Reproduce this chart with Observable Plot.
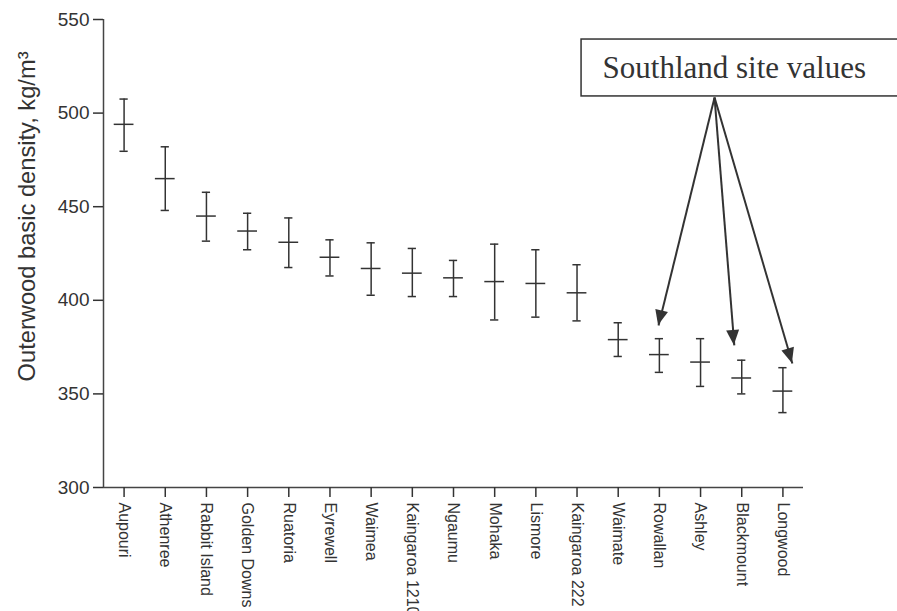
<!DOCTYPE html>
<html><head><meta charset="utf-8">
<script src="https://cdn.jsdelivr.net/npm/d3@7"></script>
<script src="https://cdn.jsdelivr.net/npm/@observablehq/plot@0.6"></script>
<style>body{margin:0;background:#fff}</style>
</head><body><div id="chart"></div>
<script>
const sites = ["Aupouri","Athenree","Rabbit Island","Golden Downs","Ruatoria","Eyrewell","Waimea","Kaingaroa 1210","Ngaumu","Mohaka","Lismore","Kaingaroa 222","Waimate","Rowallan","Ashley","Blackmount","Longwood"];
const means = [494,465,445,437,431,423,417,414.5,412,410,409,404,379,371,367,358.5,351.5];
const upper = [507.5,482,457.7,446.5,444,432.3,430.7,427.7,421.3,430,427,419,388,379.5,379.5,368,364];
const lower = [479.6,448,431.6,427,417.5,413,402.7,402,402,389.5,391,389,370,361.5,354,350,340];
const yTicks = [300,350,400,450,500,550];
const yLabel = "Outerwood basic density, kg/m³";
const annotationLabel = "Southland site values";
// annotation anchors in data space (x = site index, y = density)
const yLabelPos = {x: -2.35, y: 444.8};
const arrowStart = {x: 14.34, y: 508.3};
const arrowTipX = [12.98, 14.82, 16.23];
const arrowTipY = [386.5, 375.9, 366.2];
const boxX = [11.11, 19];
const boxY = [508.9, 539.3];
const labelPos = {x: 11.62, y: 523.8};

const data = sites.map((s, i) => ({i, site: s, mean: means[i], hi: upper[i], lo: lower[i]}));
const arrows = arrowTipX.map((x, k) => ({x1: arrowStart.x, y1: arrowStart.y, x2: x, y2: arrowTipY[k]}));

const ink = "#333";
function arrowheads(index, scales) {
  const g = d3.create("svg:g");
  arrows.forEach(a => {
    const x1 = scales.x(a.x1), y1 = scales.y(a.y1), x2 = scales.x(a.x2), y2 = scales.y(a.y2);
    const ang = Math.atan2(y2 - y1, x2 - x1);
    const L = 15, W = 6.5;
    const bx = x2 - L * Math.cos(ang), by = y2 - L * Math.sin(ang);
    const px = -Math.sin(ang) * W, py = Math.cos(ang) * W;
    g.append("path").attr("d", `M${x2},${y2}L${bx + px},${by + py}L${bx - px},${by - py}Z`).attr("fill", ink);
  });
  return g.node();
}

const chart = Plot.plot({
  width: 897,
  height: 611,
  marginTop: 19,
  marginBottom: 124,
  marginLeft: 103,
  marginRight: 94,
  style: {fontFamily: "Liberation Sans, Arial, sans-serif", color: ink, background: "#fff"},
  x: {type: "linear", domain: [-0.5, sites.length - 0.5]},
  y: {domain: [300, 550]},
  marks: [
    Plot.ruleY([300], {stroke: "#444", strokeWidth: 1.5}),
    Plot.ruleX([-0.5], {stroke: "#444", strokeWidth: 1.5}),
    Plot.axisY({ticks: yTicks, tickSize: 10, tickPadding: 4, fontSize: 19, label: null, strokeWidth: 1.5}),
    Plot.axisX({ticks: d3.range(sites.length), tickFormat: i => sites[i], tickRotate: 90, tickSize: 10, tickPadding: 5, fontSize: 16, label: null, strokeWidth: 1.5}),
    Plot.text([yLabel], {x: yLabelPos.x, y: yLabelPos.y, rotate: -90, fontSize: 23.7, fill: ink}),
    Plot.ruleX(data, {x: "i", y1: "lo", y2: "hi", stroke: ink, strokeWidth: 1.5}),
    Plot.ruleY(data, {y: "mean", x1: d => d.i - 0.24, x2: d => d.i + 0.24, stroke: ink, strokeWidth: 1.5}),
    Plot.ruleY(data, {y: "hi", x1: d => d.i - 0.1, x2: d => d.i + 0.1, stroke: ink, strokeWidth: 1.5}),
    Plot.ruleY(data, {y: "lo", x1: d => d.i - 0.1, x2: d => d.i + 0.1, stroke: ink, strokeWidth: 1.5}),
    Plot.rect([0], {x1: boxX[0], x2: boxX[1], y1: boxY[0], y2: boxY[1], fill: "white", stroke: ink, strokeWidth: 1.5}),
    Plot.text([annotationLabel], {x: labelPos.x, y: labelPos.y, textAnchor: "start", fontFamily: "Liberation Serif, Times New Roman, serif", fontSize: 31, fill: ink}),
    Plot.link(arrows, {x1: "x1", y1: "y1", x2: "x2", y2: "y2", stroke: ink, strokeWidth: 2}),
    arrowheads
  ]
});
document.getElementById("chart").append(chart);
</script>
</body></html>
